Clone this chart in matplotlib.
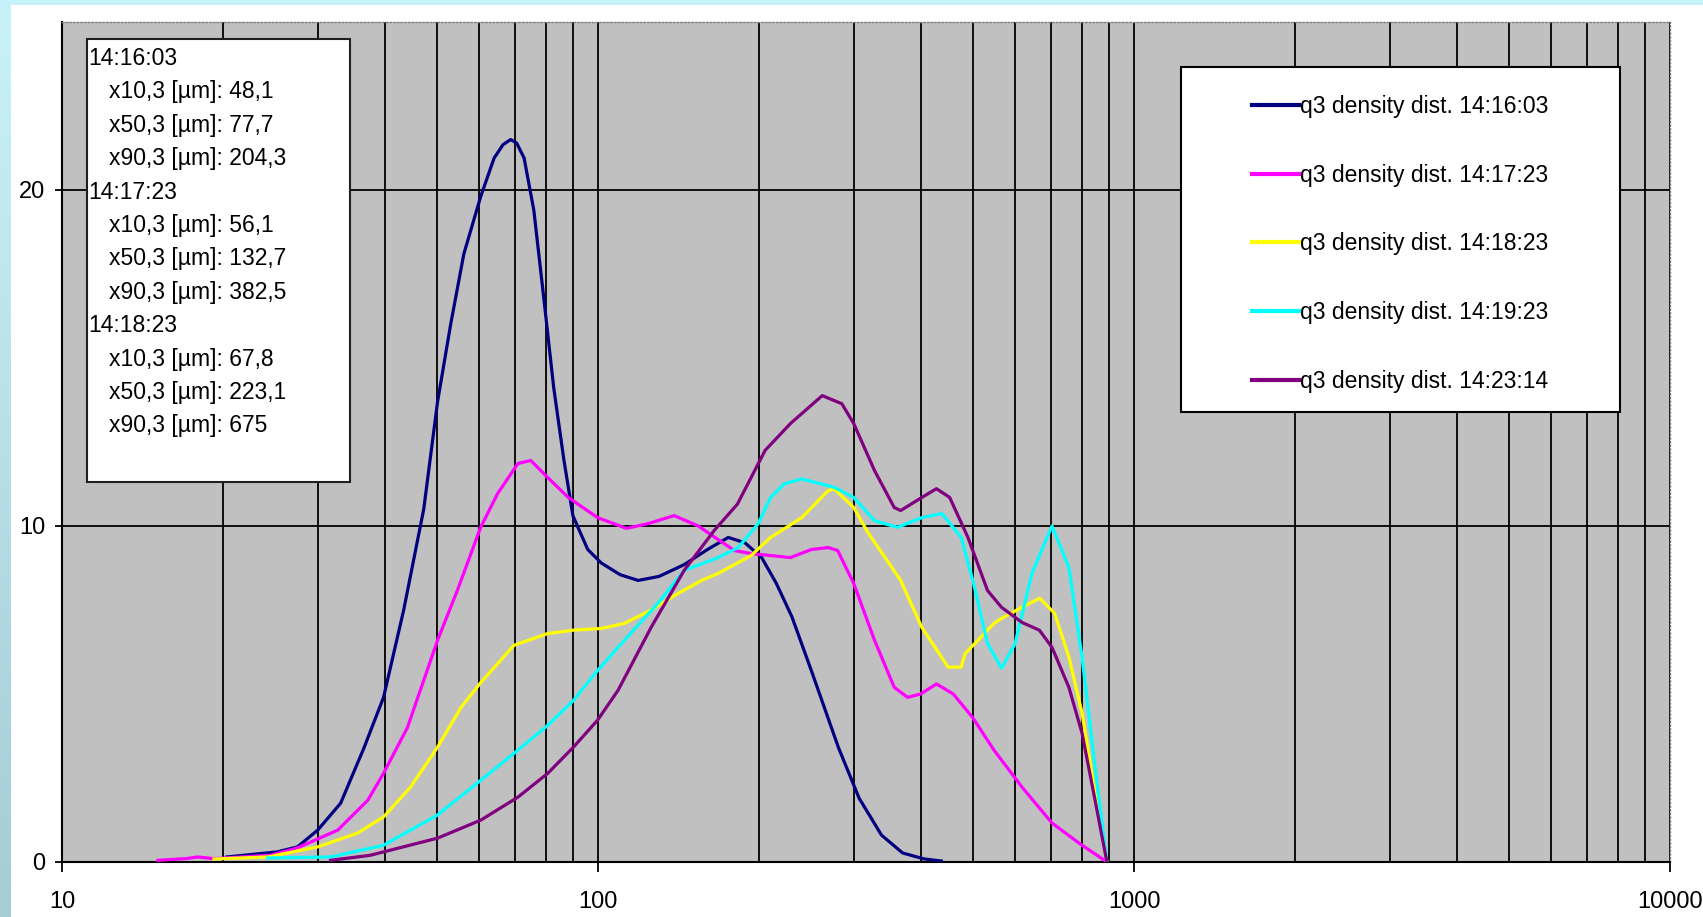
import numpy as np
import matplotlib
matplotlib.use('Agg')
import matplotlib.pyplot as plt
from matplotlib.patches import Rectangle
from matplotlib.ticker import FixedLocator, LogLocator, NullFormatter

plt.rcParams['font.family'] = ['Liberation Sans', 'DejaVu Sans']

# q3 density distributions, x in um, y in %
x_1603 = [20.3, 25.2, 27.5, 30, 33.1, 36.6, 39.8, 43.4, 47.3, 50.2, 53.1, 56.2, 60.4, 64, 66.5, 68.7,
          70.5, 72.8, 75.9, 79.2, 82.7, 86.4, 89.8, 95.7, 101.4, 110, 118.8, 130, 144.8, 160, 175, 188,
          202, 215, 230, 250, 281, 307, 338, 370, 406, 437]
y_1603 = [0.15, 0.3, 0.45, 0.95, 1.75, 3.4, 4.9, 7.5, 10.5, 13.7, 16.0, 18.1, 19.8, 20.95, 21.35, 21.5,
          21.4, 20.95, 19.4, 16.8, 14.1, 11.95, 10.3, 9.3, 8.9, 8.55, 8.38, 8.5, 8.85, 9.3, 9.66, 9.5,
          9.06, 8.3, 7.3, 5.7, 3.4, 1.9, 0.8, 0.27, 0.09, 0.03]

x_1723 = [15.1, 17.0, 17.9, 19.2, 24.5, 27.5, 32.7, 37.2, 39.8, 44.1, 50.2, 54.7, 60.4, 65, 70.9,
          74.9, 80.6, 88, 99.8, 113, 124, 138.7, 153.8, 179.6, 193, 210, 228.6, 250, 268.6, 280,
          300, 328, 357, 378, 400, 428, 460, 500, 548, 618, 703, 790, 890]
y_1723 = [0.05, 0.1, 0.15, 0.1, 0.2, 0.42, 0.95, 1.84, 2.64, 4.0, 6.6, 8.1, 9.96, 10.97, 11.86,
          11.95, 11.44, 10.85, 10.25, 9.93, 10.07, 10.31, 10.0, 9.27, 9.18, 9.12, 9.06, 9.3, 9.36, 9.27,
          8.29, 6.6, 5.2, 4.9, 5.0, 5.3, 5.0, 4.3, 3.33, 2.23, 1.16, 0.56, 0.0]

x_1823 = [19.2, 24.2, 30, 35.6, 39.8, 44.7, 50.2, 55.5, 60.5, 69.7, 80.6, 90, 101.4, 112, 125.6,
          141, 156, 167.6, 193, 210, 240, 268.6, 276, 300, 319, 367, 402, 450, 476, 484, 548, 566,
          618, 667, 711, 756, 800, 846, 890]
y_1823 = [0.09, 0.15, 0.45, 0.86, 1.34, 2.23, 3.42, 4.6, 5.35, 6.45, 6.8, 6.9, 6.95, 7.1, 7.5,
          7.99, 8.38, 8.59, 9.12, 9.66, 10.25, 11.05, 11.1, 10.55, 9.8, 8.38, 6.98, 5.8, 5.8, 6.2, 7.1, 7.25,
          7.58, 7.85, 7.4, 6.1, 4.43, 2.05, 0.0]

x_1923 = [24.2, 31.7, 39.8, 50.2, 60.5, 70.9, 80.6, 90, 99.8, 109, 129.4, 144.8, 167.6, 182.7, 199,
          210, 223, 240, 276, 300, 328, 362, 402, 438, 476, 502, 533, 566, 600, 645, 703, 756, 800,
          846, 890]
y_1923 = [0.12, 0.15, 0.5, 1.4, 2.44, 3.33, 4.07, 4.81, 5.7, 6.39, 7.7, 8.68, 9.06, 9.36, 10.07,
          10.85, 11.26, 11.4, 11.15, 10.85, 10.16, 9.96, 10.25, 10.37, 9.66, 8.29, 6.5, 5.77, 6.5, 8.59,
          10.0, 8.77, 6.1, 2.82, 0.0]

x_2314 = [31.7, 37.6, 50.2, 60.5, 70.9, 80.6, 90, 99.8, 109, 125.6, 144.8, 164.8, 182, 205, 228.6,
          262, 285, 300, 328, 357, 367, 402, 428, 453, 490, 533, 566, 618, 666, 703, 756, 800, 846, 890]
y_2314 = [0.05, 0.2, 0.71, 1.25, 1.93, 2.64, 3.42, 4.22, 5.11, 6.98, 8.68, 9.87, 10.65, 12.25, 13.05,
          13.88, 13.64, 13.05, 11.65, 10.55, 10.46, 10.85, 11.11, 10.85, 9.66, 8.08, 7.58, 7.13, 6.9,
          6.39, 5.2, 3.83, 1.84, 0.0]

series = [
    (x_1603, y_1603, '#000080', 'q3 density dist. 14:16:03'),
    (x_1723, y_1723, '#ff00ff', 'q3 density dist. 14:17:23'),
    (x_1823, y_1823, '#ffff00', 'q3 density dist. 14:18:23'),
    (x_1923, y_1923, '#00ffff', 'q3 density dist. 14:19:23'),
    (x_2314, y_2314, '#800080', 'q3 density dist. 14:23:14'),
]

stats_lines = ['14:16:03', 'x10,3 [µm]: 48,1', 'x50,3 [µm]: 77,7', 'x90,3 [µm]: 204,3',
               '14:17:23', 'x10,3 [µm]: 56,1', 'x50,3 [µm]: 132,7', 'x90,3 [µm]: 382,5',
               '14:18:23', 'x10,3 [µm]: 67,8', 'x50,3 [µm]: 223,1', 'x90,3 [µm]: 675']

x_ticks = [10, 100, 1000, 10000]
x_ticklabels = ['10', '100', '1000', '10000']
y_ticks = [0, 10, 20]

W, H = 1703, 917
fig = plt.figure(figsize=(W / 100, H / 100), dpi=100)

# light blue frame + white page
bg = fig.add_axes([0, 0, 1, 1], zorder=-2)
grad = np.linspace(0, 1, 256)[:, None]
top_c = np.array([200, 242, 250]) / 255
bot_c = np.array([166, 204, 214]) / 255
img = top_c[None, None, :] * (1 - grad[:, :, None]) + bot_c[None, None, :] * grad[:, :, None]
bg.imshow(img, aspect='auto', extent=[0, 1, 0, 1])
bg.add_patch(Rectangle((11 / W, 0), 1, (H - 5) / H, facecolor='white', edgecolor='none'))
bg.set_xlim(0, 1)
bg.set_ylim(0, 1)
bg.axis('off')

ax = fig.add_axes([62 / W, (H - 862) / H, 1608 / W, 840 / H])
ax.set_facecolor('#c0c0c0')
ax.set_xscale('log')
ax.set_xlim(10, 10000)
ax.set_ylim(0, 25)

for xs, ys, c, lab in series:
    ax.plot(xs, ys, color=c, lw=2.3, label=lab, zorder=3, solid_joinstyle='round')

ax.xaxis.set_major_locator(FixedLocator(x_ticks))
ax.set_xticklabels(x_ticklabels)
ax.xaxis.set_minor_locator(LogLocator(base=10, subs=range(2, 10)))
ax.xaxis.set_minor_formatter(NullFormatter())
ax.set_yticks(y_ticks)
ax.set_yticklabels([str(v) for v in y_ticks])

ax.set_axisbelow(True)
ax.grid(True, which='both', axis='x', color='black', lw=1.3)
ax.grid(True, which='major', axis='y', color='black', lw=1.3)

ax.tick_params(axis='x', which='major', direction='out', length=7, width=1.3, pad=14, labelsize=17)
ax.tick_params(axis='x', which='minor', length=0)
ax.tick_params(axis='y', direction='out', length=5, width=1.3, pad=7, labelsize=17)

for s in ['left', 'bottom']:
    ax.spines[s].set_color('black')
    ax.spines[s].set_linewidth(1.5)
for s in ['top', 'right']:
    ax.spines[s].set_color('#808080')
    ax.spines[s].set_linestyle(':')
    ax.spines[s].set_linewidth(1)

# stats box
ax.add_patch(Rectangle(((87 - 62) / 1608, (862 - 482) / 840), (350 - 87) / 1608, (482 - 39) / 840,
                       transform=ax.transAxes, facecolor='white', edgecolor='#202020', lw=1.5, zorder=5))
for i, line in enumerate(stats_lines):
    xp = 88 if line.startswith('14') else 109
    yp = 58.5 + 33.4 * i
    fig.text(xp / W, 1 - yp / H, line, fontsize=16.5, va='center', ha='left', zorder=10)

# legend box
ax.add_patch(Rectangle(((1181 - 62) / 1608, (862 - 412) / 840), (1620 - 1181) / 1608, (412 - 67) / 840,
                       transform=ax.transAxes, facecolor='white', edgecolor='black', lw=1.5, zorder=5))
leg = ax.legend(loc='center', bbox_to_anchor=((1400.5 - 62) / 1608, (862 - 244) / 840),
                frameon=False, fontsize=16.5, handlelength=2.05, handletextpad=0.05,
                labelspacing=2.0, borderpad=0)
leg.set_zorder(6)
for l in leg.get_lines():
    l.set_linewidth(3)

fig.savefig('out.png', dpi=100)
